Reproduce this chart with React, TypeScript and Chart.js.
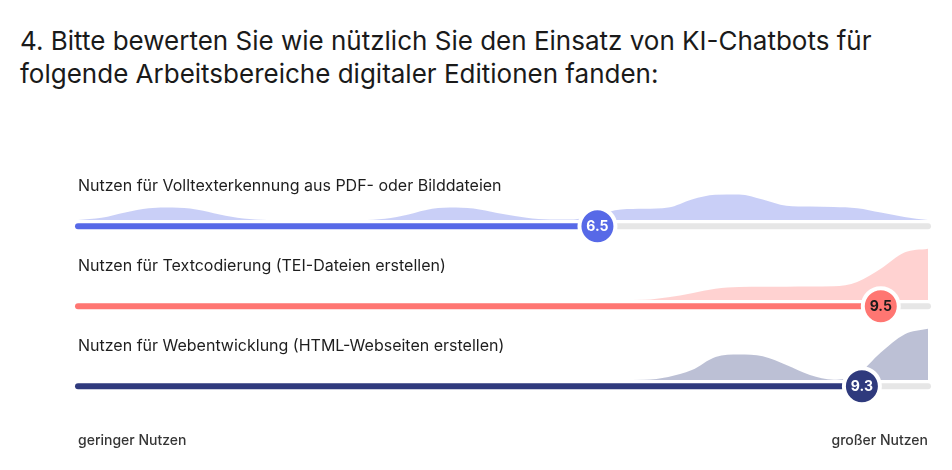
import React, { useEffect, useRef } from "react";
import { Chart, registerables } from "chart.js";

Chart.register(...registerables);

const TITLE_LINES = [
  "4. Bitte bewerten Sie wie nützlich Sie den Einsatz von KI-Chatbots für",
  "folgende Arbeitsbereiche digitaler Editionen fanden:",
];

const SCALE_MIN = 1;
const SCALE_MAX = 10;

// positions on the 1–10 scale at which the response density is sampled (quarter steps)
const SCORE_STEPS = [
  1, 1.25, 1.5, 1.75, 2, 2.25, 2.5, 2.75, 3, 3.25, 3.5, 3.75, 4, 4.25, 4.5, 4.75, 5, 5.25, 5.5,
  5.75, 6, 6.25, 6.5, 6.75, 7, 7.25, 7.5, 7.75, 8, 8.25, 8.5, 8.75, 9, 9.25, 9.5, 9.75, 10,
];

const ROW_LABELS = [
  "Nutzen für Volltexterkennung aus PDF- oder Bilddateien",
  "Nutzen für Textcodierung (TEI-Dateien erstellen)",
  "Nutzen für Webentwicklung (HTML-Webseiten erstellen)",
];

const MEANS = [6.5, 9.5, 9.3];

// smoothed response density (in responses) read per score step
const DENSITY_VOLLTEXT = [
  0, 0.18, 0.6, 0.95, 1.0, 0.85, 0.45, 0.12, 0, 0, 0, 0, 0, 0.1, 0.45, 0.9, 1.0, 0.85, 0.48,
  0.18, 0.04, 0.05, 0.42, 0.85, 0.9, 1.0, 1.65, 2.02, 2.05, 1.65, 1.15, 1.08, 1.05, 0.95, 0.6,
  0.25, 0,
];
const DENSITY_TEI = [
  0, 0, 0, 0, 0, 0, 0, 0, 0, 0, 0, 0, 0, 0, 0, 0, 0, 0, 0,
  0, 0, 0, 0, 0, 0.02, 0.22, 0.55, 0.9, 1.04, 1.07, 1.07, 1.08, 1.1, 1.45, 2.5, 3.8, 4.1,
];
const DENSITY_HTML = [
  0, 0, 0, 0, 0, 0, 0, 0, 0, 0, 0, 0, 0, 0, 0, 0, 0, 0, 0,
  0, 0, 0, 0, 0, 0.02, 0.25, 0.8, 1.85, 2.05, 1.9, 1.2, 0.4, 0.03, 0.45, 2.2, 3.65, 4.1,
];

const DENSITIES = [DENSITY_VOLLTEXT, DENSITY_TEI, DENSITY_HTML];

const LOW_LABEL = "geringer Nutzen";
const HIGH_LABEL = "großer Nutzen";

const COLORS = ["#5769e7", "#ff7672", "#2f3a7d"];
const LIGHT_COLORS = ["rgba(87,105,231,0.32)", "rgba(255,118,114,0.33)", "rgba(47,58,125,0.32)"];
const VALUE_TEXT_COLORS = ["#ffffff", "#1b1b1b", "#ffffff"];

const ROW_PITCH = 6.4; // in density units
const TRACK_OFFSET = 0.5;

const FONT = "Inter, 'Open Sans', sans-serif";

export default function App() {
  const canvasRef = useRef<HTMLCanvasElement | null>(null);

  useEffect(() => {
    const canvas = canvasRef.current;
    if (!canvas) return;
    const nRows = ROW_LABELS.length;
    const bases = ROW_LABELS.map((_, i) => (nRows - 1 - i) * ROW_PITCH);

    const datasets: any[] = [];
    ROW_LABELS.forEach((_, i) => {
      const base = bases[i];
      const trackY = base - TRACK_OFFSET;
      datasets.push({
        label: "density" + i,
        data: SCORE_STEPS.map((s, k) => ({ x: s, y: base + DENSITIES[i][k] })),
        fill: { value: base },
        backgroundColor: LIGHT_COLORS[i],
        borderWidth: 0,
        pointRadius: 0,
        cubicInterpolationMode: "monotone",
        order: 10,
      });
      datasets.push({
        label: "rest" + i,
        data: [
          { x: MEANS[i], y: trackY },
          { x: SCALE_MAX, y: trackY },
        ],
        borderColor: "#e6e6e6",
        borderWidth: 6,
        borderCapStyle: "round",
        pointRadius: 0,
        fill: false,
        order: 8,
      });
      datasets.push({
        label: "bar" + i,
        data: [
          { x: SCALE_MIN, y: trackY },
          { x: MEANS[i], y: trackY },
        ],
        borderColor: COLORS[i],
        borderWidth: 6,
        borderCapStyle: "round",
        pointRadius: 0,
        fill: false,
        order: 6,
      });
      datasets.push({
        label: "mean" + i,
        data: [{ x: MEANS[i], y: trackY }],
        showLine: false,
        pointRadius: 18,
        pointBorderWidth: 4,
        pointBorderColor: "#ffffff",
        pointBackgroundColor: COLORS[i],
        order: 1,
      });
    });

    const textPlugin = {
      id: "scaleText",
      afterDatasetsDraw(chart: any) {
        const { ctx, chartArea, scales } = chart;
        const xs = scales.x;
        const ys = scales.y;
        ctx.save();
        ROW_LABELS.forEach((label, i) => {
          const base = bases[i];
          ctx.fillStyle = "#1e1e1e";
          ctx.font = `400 16px ${FONT}`;
          ctx.textAlign = "left";
          ctx.textBaseline = "middle";
          ctx.fillText(label, chartArea.left, ys.getPixelForValue(base) - 34);
          const cx = xs.getPixelForValue(MEANS[i]);
          const cy = ys.getPixelForValue(base - TRACK_OFFSET);
          ctx.fillStyle = VALUE_TEXT_COLORS[i];
          ctx.font = `700 14px ${FONT}`;
          ctx.textAlign = "center";
          ctx.fillText(String(MEANS[i]), cx, cy + 0.5);
        });
        ctx.fillStyle = "#363636";
        ctx.font = `500 14px ${FONT}`;
        ctx.textBaseline = "middle";
        ctx.textAlign = "left";
        ctx.fillText(LOW_LABEL, xs.getPixelForValue(SCALE_MIN), 441);
        ctx.textAlign = "right";
        ctx.fillText(HIGH_LABEL, xs.getPixelForValue(SCALE_MAX), 441);
        ctx.restore();
      },
    };

    const chart = new Chart(canvas, {
      type: "line",
      data: { datasets },
      options: {
        animation: false,
        responsive: false,
        events: [],
        layout: { padding: { left: 78, right: 24, top: 170, bottom: 65 } },
        plugins: { legend: { display: false }, tooltip: { enabled: false } },
        scales: {
          x: { type: "linear", min: SCALE_MIN, max: SCALE_MAX, display: false },
          y: { type: "linear", min: -2, max: 16.8, display: false },
        },
        elements: { line: { tension: 0 } },
        clip: false as any,
      } as any,
      plugins: [textPlugin],
    });
    return () => chart.destroy();
  }, []);

  return (
    <div style={{ position: "fixed", left: 0, top: 0, width: 952, height: 470, background: "#fff" }}>
      <div
        style={{
          position: "absolute",
          left: 20,
          top: 24,
          fontFamily: FONT,
          fontSize: 26,
          lineHeight: "33px",
          color: "#1a1a1a",
          whiteSpace: "nowrap",
        }}
      >
        {TITLE_LINES.map((l, i) => (
          <div key={i}>{l}</div>
        ))}
      </div>
      <canvas ref={canvasRef} width={952} height={470} style={{ position: "absolute", left: 0, top: 0 }} />
    </div>
  );
}
